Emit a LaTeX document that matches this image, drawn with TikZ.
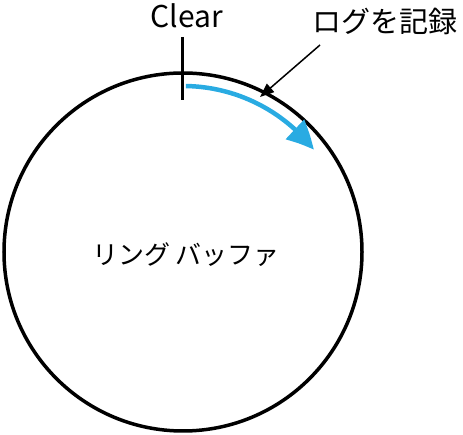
\documentclass[tikz,border=0pt]{standalone}
\usepackage{fontspec}
\setmainfont{Noto Sans CJK JP}
\usetikzlibrary{positioning,arrows.meta,bending}
\definecolor{logblue}{RGB}{41,171,226}

\begin{document}
\begin{tikzpicture}[
    x=1pt, y=1pt,
    ring/.style={circle, draw, line width=3.5pt, minimum size=358pt, inner sep=0pt},
    tick/.style={line width=3pt},
    logpath/.style={-{Triangle[length=28pt,width=26pt,bend]}, line width=4.5pt, draw=logblue},
    pointer/.style={-{Triangle[length=14pt,width=11pt]}, line width=1.5pt},
    label/.style={font=\fontsize{30}{36}\selectfont, anchor=base}
]
\useasboundingbox (0,0) rectangle (463,435);

% Buffer
\node[ring] (ring) at (183,183) {};
\node[label, font=\fontsize{26}{31}\selectfont] (name) at (186,170) {リング バッファ};

% Clear mark
\node[label] (clear) at (187,407) {Clear};
\coordinate (tickTop) at (182,398);
\coordinate (tickBot) at (182,335);
\draw[tick] (tickTop) -- (tickBot);

% Writing direction
\draw[logpath] (ring.center) ++(89:166) arc (89:38:166);

% Log label
\node[label, font=\fontsize{29}{35}\selectfont] (log) at (385,402) {ログを記録};
\coordinate (logStart) at (320,390);
\coordinate (logEnd) at (260,338);
\draw[pointer] (logStart) -- (logEnd);

\end{tikzpicture}
\end{document}
